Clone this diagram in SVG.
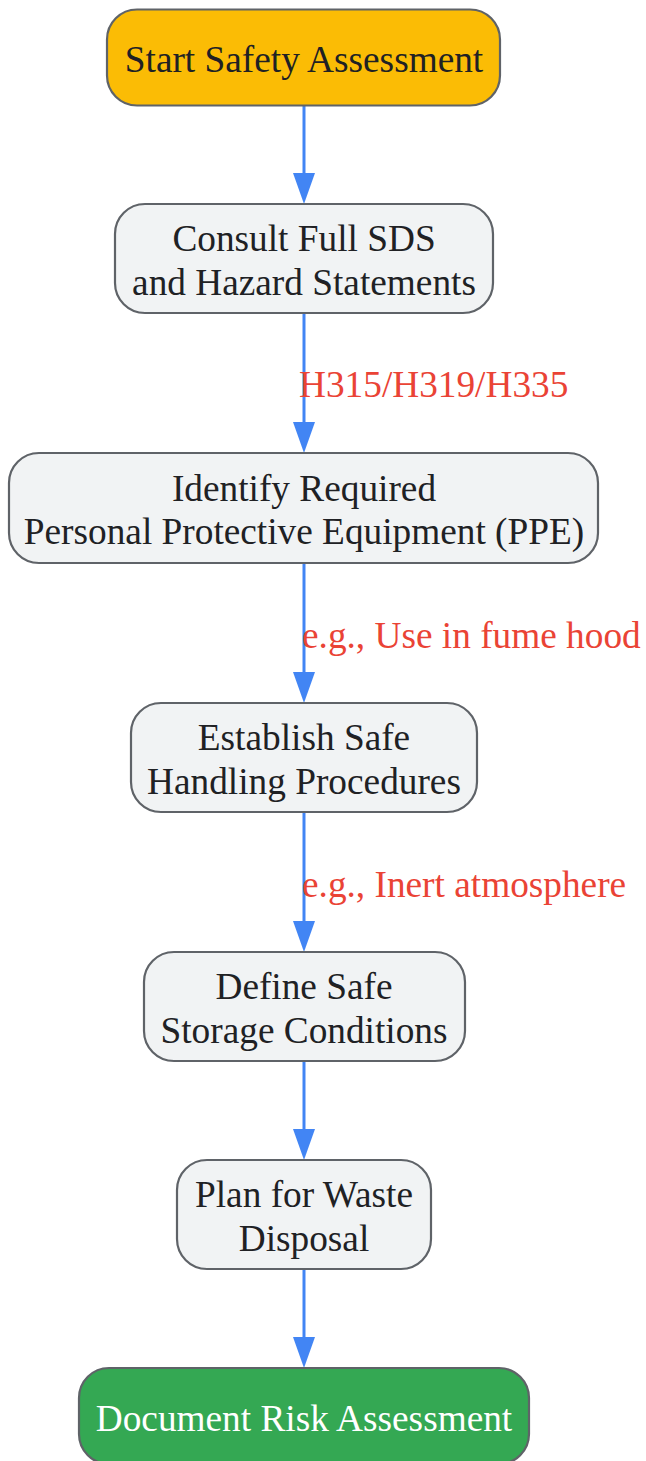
<svg xmlns="http://www.w3.org/2000/svg" width="646" height="1461" viewBox="0 0 646 1461">
<defs>
<marker id="arr" markerUnits="userSpaceOnUse" markerWidth="32" markerHeight="24" refX="0" refY="11" orient="auto" viewBox="0 0 32 22">
<path d="M0,0 L31,11 L0,22 z" fill="#4285F4"/>
</marker>
<style>
.node rect{stroke:#5F6368;stroke-width:2.2}
.proc rect{fill:#F1F3F4}
.start rect{fill:#FBBC05}
.end rect{fill:#34A853}
text{font-family:"Liberation Serif","Times New Roman",serif;font-size:37.3px}
.node text{fill:#202124;text-anchor:middle}
.end text{fill:#FFFFFF}
.edge{stroke:#4285F4;stroke-width:3;fill:none;marker-end:url(#arr)}
.lbl{fill:#EA4335}
</style>
</defs>
<rect width="646" height="1461" fill="#FFFFFF"/>
<g id="connectors">
<line class="edge" x1="304" y1="106" x2="304" y2="173"/>
<line class="edge" x1="304" y1="314" x2="304" y2="422"/>
<line class="edge" x1="304" y1="564" x2="304" y2="672"/>
<line class="edge" x1="304" y1="813" x2="304" y2="921"/>
<line class="edge" x1="304" y1="1062" x2="304" y2="1129"/>
<line class="edge" x1="304" y1="1270" x2="304" y2="1337"/>
<text class="lbl" x="299" y="397">H315/H319/H335</text>
<text class="lbl" x="302" y="648">e.g., Use in fume hood</text>
<text class="lbl" x="302" y="897">e.g., Inert atmosphere</text>
</g>
<g id="start" class="node start">
<rect x="107" y="9.5" width="393" height="96" rx="30"/>
<text x="304" y="72">Start Safety Assessment</text>
</g>
<g id="consult" class="node proc">
<rect x="115" y="204" width="378" height="109" rx="30"/>
<text x="304" y="251">Consult Full SDS</text>
<text x="304" y="295">and Hazard Statements</text>
</g>
<g id="identify" class="node proc">
<rect x="9" y="453" width="589" height="110" rx="30"/>
<text x="304" y="501">Identify Required</text>
<text x="304" y="544">Personal Protective Equipment (PPE)</text>
</g>
<g id="establish" class="node proc">
<rect x="131" y="703" width="346" height="109" rx="30"/>
<text x="304" y="750">Establish Safe</text>
<text x="304" y="794">Handling Procedures</text>
</g>
<g id="define" class="node proc">
<rect x="144" y="952" width="321" height="109" rx="30"/>
<text x="304" y="999">Define Safe</text>
<text x="304" y="1043">Storage Conditions</text>
</g>
<g id="plan" class="node proc">
<rect x="177" y="1160" width="254" height="109" rx="30"/>
<text x="304" y="1207">Plan for Waste</text>
<text x="304" y="1251">Disposal</text>
</g>
<g id="document" class="node end">
<rect x="79" y="1368" width="450" height="96" rx="30"/>
<text x="304" y="1431">Document Risk Assessment</text>
</g>
</svg>
